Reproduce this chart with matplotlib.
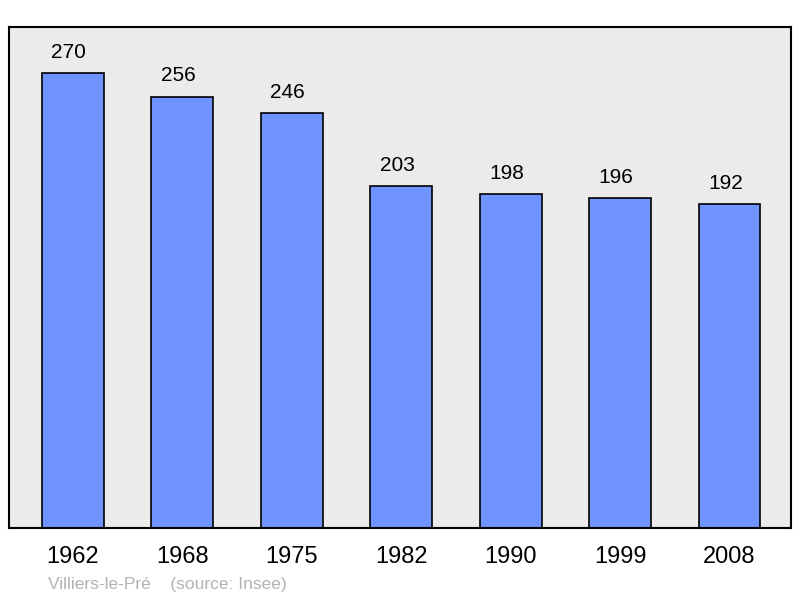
import matplotlib.pyplot as plt
import numpy as np

plt.rcParams['font.family'] = ['Liberation Sans', 'DejaVu Sans']

# Données de population
years = ['1962', '1968', '1975', '1982', '1990', '1999', '2008']
population = [270, 256, 246, 203, 198, 196, 192]

fig = plt.figure(figsize=(8, 5.98), dpi=100)
ax = fig.add_axes([9 / 800, 70 / 598, 782 / 800, 501 / 598])
ax.set_facecolor('#ebebeb')

x = np.arange(len(years))
ax.bar(x, population, width=0.566, color='#7094ff', edgecolor='black', linewidth=1.2, zorder=2)

for xi, v in zip(x, population):
    ax.annotate(str(v), (xi, v), xytext=(-3, 8), textcoords='offset points',
                ha='center', va='bottom', fontsize=15)

ax.set_xlim(-0.584, 6.562)
ax.set_ylim(0, 297.3)
ax.set_yticks([])
ax.set_xticks(x)
ax.set_xticklabels(years, fontsize=17)
ax.tick_params(axis='x', length=0, pad=13)
for s in ax.spines.values():
    s.set_linewidth(1.5)

fig.text(48 / 800, 1 - 584 / 598, 'Villiers-le-Pré    (source: Insee)',
         color='#b3b3b3', fontsize=12.5, va='center', ha='left')

fig.savefig('out.png', dpi=100)
